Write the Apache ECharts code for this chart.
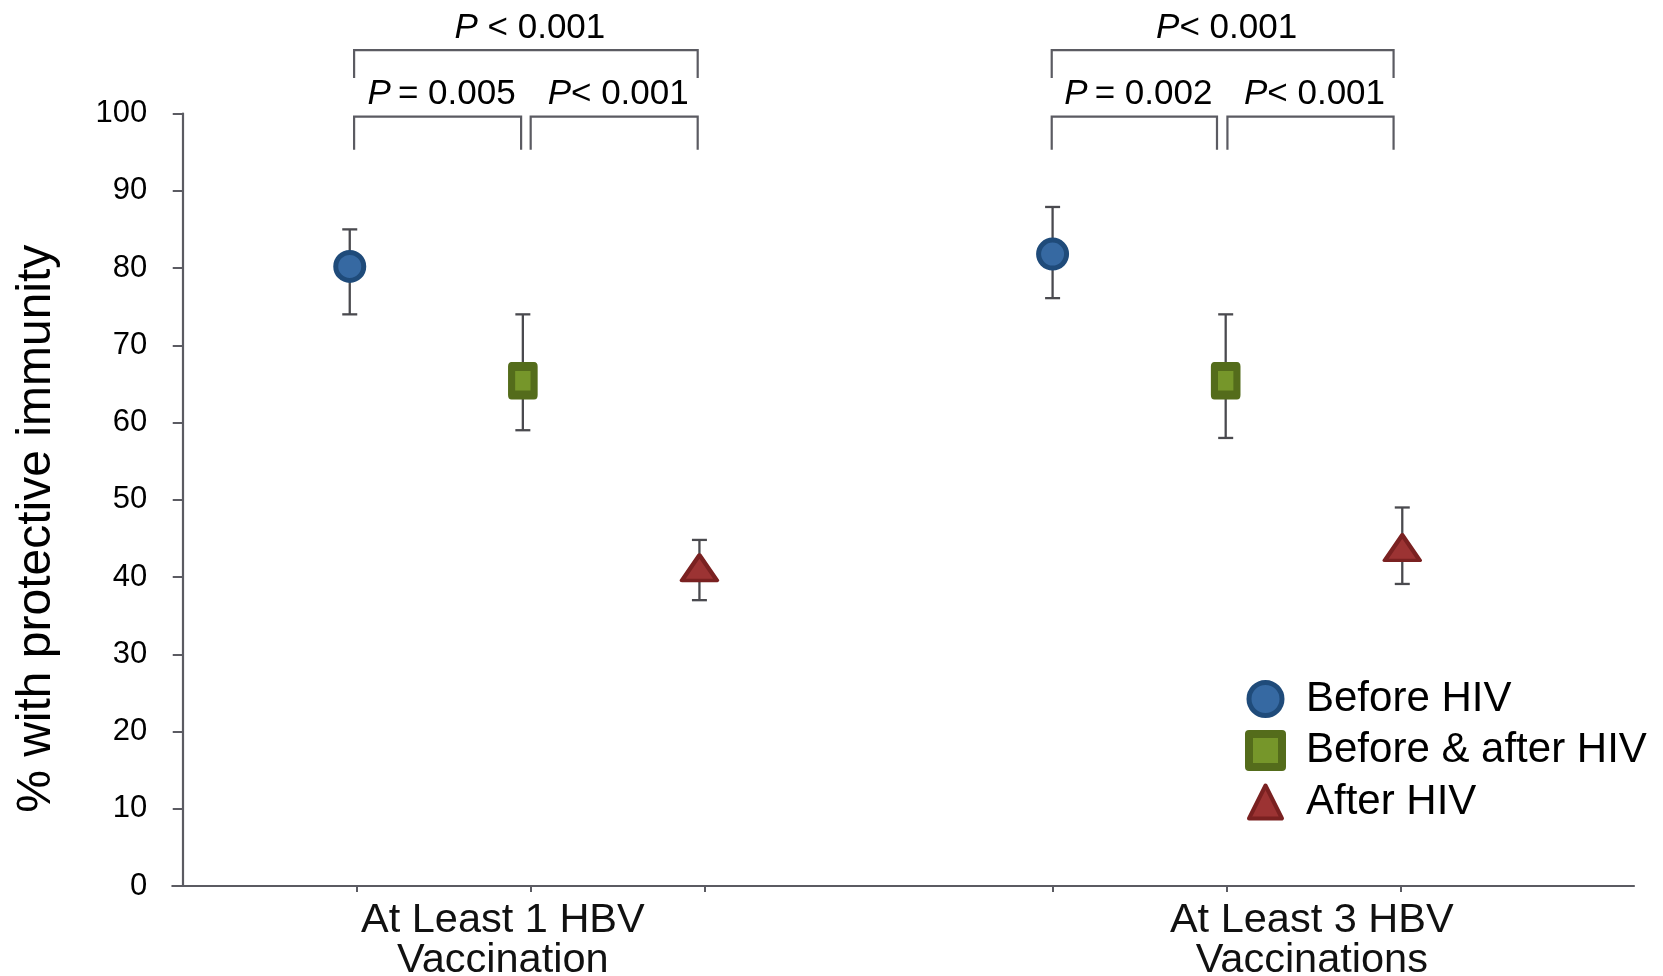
<!DOCTYPE html>
<html>
<head>
<meta charset="utf-8">
<script src="https://cdn.jsdelivr.net/npm/echarts@6/dist/echarts.min.js"></script>
<style>
html,body{margin:0;padding:0;background:#fff;overflow:hidden;}
#chart{width:1663px;height:976px;}
</style>
</head>
<body>
<div id="chart"></div>
<script>
// ---- data ----
const categories = ["At Least 1 HBV\nVaccination", "At Least 3 HBV\nVaccinations"];
const categoryLabelPos = [1.84, 6.49];
const groupTicks = [1, 2, 3, 5, 6, 7];
const seriesNames = ["Before HIV", "Before & after HIV", "After HIV"];
const xBefore = [0.96, 5.0];
const xBoth = [1.955, 5.995];
const xAfter = [2.97, 7.01];
const beforeVal = [80.2, 81.8];
const beforeLow = [74.0, 76.1];
const beforeHigh = [85.0, 87.9];
const bothVal = [65.4, 65.4];
const bothLow = [59.0, 58.0];
const bothHigh = [74.0, 74.0];
const afterVal = [41.2, 43.8];
const afterLow = [37.0, 39.1];
const afterHigh = [44.8, 49.0];
const yTicks = [0, 10, 20, 30, 40, 50, 60, 70, 80, 90, 100];
// comparison brackets: from x, to x, level, leg end, label
const bracketFrom = [0.985, 0.985, 2.0, 4.995, 4.995, 6.005];
const bracketTo = [2.96, 1.945, 2.96, 6.96, 5.945, 6.96];
const bracketLevel = [108.2, 99.6, 99.6, 108.2, 99.6, 99.6];
const bracketEnd = [104.6, 95.3, 95.3, 104.6, 95.3, 95.3];
const bracketLabels = ["{i|P} < 0.001", "{i|P}\u2009= 0.005", "{i|P}< 0.001", "{i|P}< 0.001", "{i|P}\u2009= 0.002", "{i|P}< 0.001"];

const FONT = '"Liberation Sans", Arial, Helvetica, sans-serif';
const AXIS_COLOR = '#5b5b62';

const colors = {
  before: {fill: '#3669a2', border: '#1f4b7a'},
  both: {fill: '#76962a', border: '#546c1b'},
  after: {fill: '#9c3333', border: '#7a2121'}
};

function pts(xs, ys) { return xs.map((x, i) => [x, ys[i]]); }
function errs(xs, lo, hi) { return xs.map((x, i) => [x, lo[i], hi[i]]); }

const errData = [].concat(
  errs(xBefore, beforeLow, beforeHigh),
  errs(xBoth, bothLow, bothHigh),
  errs(xAfter, afterLow, afterHigh)
);
const bracketData = bracketFrom.map((x, i) => [x, bracketTo[i], bracketLevel[i], bracketEnd[i], i]);

const chart = echarts.init(document.getElementById('chart'), null, {renderer: 'canvas', width: 1663, height: 976});

const option = {
  backgroundColor: '#ffffff',
  animation: false,
  grid: {left: 172.3, width: 1461.7, top: 113.5, height: 772.5, containLabel: false, outerBoundsMode: 'none'},
  xAxis: {
    type: 'value',
    min: -0.06,
    max: 8.342,
    axisLine: {show: true, onZero: false, lineStyle: {color: AXIS_COLOR, width: 2.2}},
    axisTick: {show: true, length: 6, customValues: groupTicks, lineStyle: {color: AXIS_COLOR, width: 2}},
    splitLine: {show: false},
    axisLabel: {
      show: true,
      customValues: categoryLabelPos,
      formatter: function (v, idx) {
        let best = 0;
        for (let i = 0; i < categoryLabelPos.length; i++) {
          if (Math.abs(categoryLabelPos[i] - v) < Math.abs(categoryLabelPos[best] - v)) best = i;
        }
        return categories[best];
      },
      fontFamily: FONT, fontSize: 41.5, lineHeight: 40, color: '#111', margin: 15
    }
  },
  yAxis: {
    type: 'value',
    min: 0, max: 100, interval: 10,
    name: '% with protective immunity',
    nameLocation: 'middle',
    nameGap: 112,
    nameTextStyle: {fontFamily: FONT, fontSize: 48, color: '#000', padding: [0, 58, 0, 0]},
    axisLine: {show: true, lineStyle: {color: AXIS_COLOR, width: 2.2}},
    axisTick: {show: true, length: 10, inside: false, lineStyle: {color: AXIS_COLOR, width: 2}},
    splitLine: {show: false},
    axisLabel: {fontFamily: FONT, fontSize: 31, color: '#000', margin: 25,
      formatter: function (v) { return yTicks.indexOf(v) >= 0 ? String(v) : ''; }}
  },
  legend: {
    orient: 'vertical',
    left: 1245,
    top: 675,
    padding: 0,
    itemGap: 3.5,
    itemWidth: 33,
    itemHeight: 33,
    textStyle: {fontFamily: FONT, fontSize: 42, color: '#000', lineHeight: 40, padding: [8, 0, 0, 19]},
    data: [
      {name: seriesNames[0], icon: 'circle', itemStyle: {color: colors.before.fill, borderColor: colors.before.border, borderWidth: 5}},
      {name: seriesNames[1], icon: 'rect', itemStyle: {color: colors.both.fill, borderColor: colors.both.border, borderWidth: 8}},
      {name: seriesNames[2], icon: 'triangle', itemStyle: {color: colors.after.fill, borderColor: colors.after.border, borderWidth: 4}}
    ]
  },
  series: [
    {
      type: 'custom',
      name: 'errorbars',
      z: 1,
      silent: true,
      clip: false,
      encode: {x: 0, y: [1, 2]},
      data: errData,
      renderItem: function (params, api) {
        const x = api.value(0);
        const lo = api.coord([x, api.value(1)]);
        const hi = api.coord([x, api.value(2)]);
        const hw = 7.5;
        const st = {stroke: '#4a4a4f', lineWidth: 2.3, fill: null};
        return {
          type: 'group',
          children: [
            {type: 'line', shape: {x1: lo[0], y1: lo[1], x2: hi[0], y2: hi[1]}, style: st},
            {type: 'line', shape: {x1: hi[0] - hw, y1: hi[1], x2: hi[0] + hw, y2: hi[1]}, style: st},
            {type: 'line', shape: {x1: lo[0] - hw, y1: lo[1], x2: lo[0] + hw, y2: lo[1]}, style: st}
          ]
        };
      }
    },
    {
      type: 'custom',
      name: 'brackets',
      z: 3,
      silent: true,
      clip: false,
      encode: {x: [0, 1], y: [2, 3]},
      data: bracketData,
      renderItem: function (params, api) {
        const x1 = api.value(0), x2 = api.value(1), lv = api.value(2), en = api.value(3);
        const idx = api.value(4);
        const p1 = api.coord([x1, en]);
        const p2 = api.coord([x1, lv]);
        const p3 = api.coord([x2, lv]);
        const p4 = api.coord([x2, en]);
        return {
          type: 'group',
          children: [
            {type: 'polyline', shape: {points: [p1, p2, p3, p4]},
              style: {stroke: '#5b5b62', lineWidth: 2.2, fill: null}},
            {type: 'text', x: (p2[0] + p3[0]) / 2 + 4, y: p2[1] - 22,
              style: {text: bracketLabels[idx], fontFamily: FONT, fontSize: 35, fill: '#000',
                align: 'center', verticalAlign: 'middle',
                rich: {i: {fontStyle: 'italic', fontFamily: FONT, fontSize: 35, fill: '#000'}}}}
          ]
        };
      }
    },
    {
      type: 'scatter', name: seriesNames[0], z: 5,
      symbol: 'circle', symbolSize: 28,
      itemStyle: {color: colors.before.fill, borderColor: colors.before.border, borderWidth: 5, opacity: 1},
      data: pts(xBefore, beforeVal)
    },
    {
      type: 'scatter', name: seriesNames[1], z: 5,
      symbol: 'rect', symbolSize: [22.5, 28.5],
      itemStyle: {color: colors.both.fill, borderColor: colors.both.border, borderWidth: 8, borderJoin: 'round', opacity: 1},
      data: pts(xBoth, bothVal)
    },
    {
      type: 'scatter', name: seriesNames[2], z: 5,
      symbol: 'triangle', symbolSize: [35, 25.5],
      itemStyle: {color: colors.after.fill, borderColor: colors.after.border, borderWidth: 4, borderJoin: 'round', opacity: 1},
      data: pts(xAfter, afterVal)
    }
  ]
};
chart.setOption(option);
</script>
</body>
</html>
